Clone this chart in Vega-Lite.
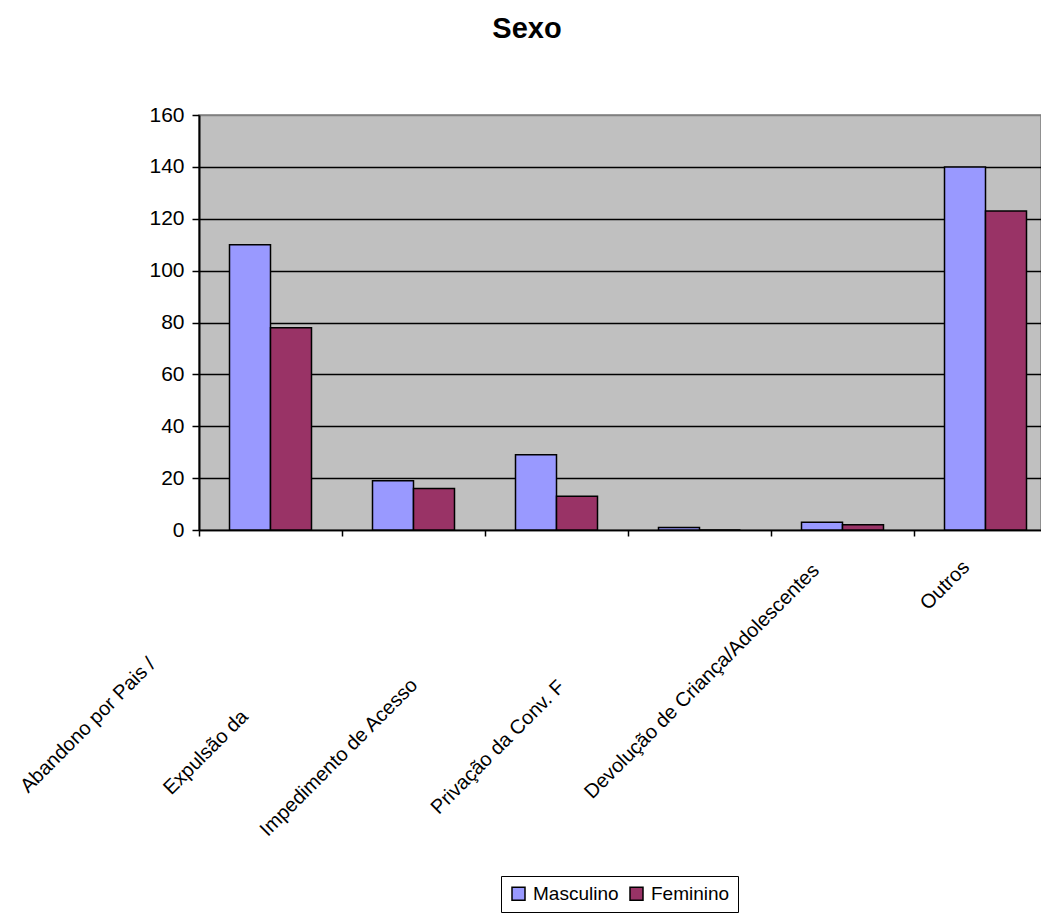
{
  "$schema": "https://vega.github.io/schema/vega-lite/v6.json",
  "autosize": {"type": "none"},
  "padding": {"left": 199, "top": 115, "right": 0, "bottom": 386},
  "width": 842,
  "height": 415,
  "background": "white",
  "title": {
    "text": "Sexo",
    "font": "Liberation Sans",
    "fontSize": 29,
    "fontWeight": "bold",
    "color": "black",
    "anchor": "middle",
    "frame": "group",
    "dx": -93,
    "offset": 60
  },
  "data": {
    "values": [
      {"categoria": "Abandono por Pais /", "sexo": "Masculino", "total": 110},
      {"categoria": "Abandono por Pais /", "sexo": "Feminino", "total": 78},
      {"categoria": "Expulsão da", "sexo": "Masculino", "total": 19},
      {"categoria": "Expulsão da", "sexo": "Feminino", "total": 16},
      {"categoria": "Impedimento de Acesso", "sexo": "Masculino", "total": 29},
      {"categoria": "Impedimento de Acesso", "sexo": "Feminino", "total": 13},
      {"categoria": "Privação da Conv. F", "sexo": "Masculino", "total": 1},
      {"categoria": "Privação da Conv. F", "sexo": "Feminino", "total": 0},
      {"categoria": "Devolução de Criança/Adolescentes", "sexo": "Masculino", "total": 3},
      {"categoria": "Devolução de Criança/Adolescentes", "sexo": "Feminino", "total": 2},
      {"categoria": "Outros", "sexo": "Masculino", "total": 140},
      {"categoria": "Outros", "sexo": "Feminino", "total": 123}
    ]
  },
  "config": {
    "view": {"fill": "#C0C0C0", "stroke": "#808080", "strokeWidth": 1.5},
    "font": "Liberation Sans"
  },
  "mark": {"type": "bar", "stroke": "black", "strokeWidth": 1.5, "clip": true},
  "encoding": {
    "x": {
      "field": "categoria",
      "type": "nominal",
      "sort": null,
      "scale": {"range": [0, 858], "paddingInner": 0, "paddingOuter": 0},
      "axis": {
        "title": null,
        "domainColor": "black",
        "domainWidth": 1.5,
        "tickColor": "black",
        "tickWidth": 1.5,
        "tickSize": 6,
        "tickBand": "extent",
        "labelAngle": -45,
        "labelAlign": "center",
        "labelBaseline": "middle",
        "labelOffset": {"expr": "datum.value === 'Abandono por Pais /' ? -183 : datum.value === 'Expulsão da' ? -208 : datum.value === 'Impedimento de Acesso' ? -218 : datum.value === 'Privação da Conv. F' ? -202 : datum.value === 'Devolução de Criança/Adolescentes' ? -141 : -41"},
        "labelPadding": {"expr": "datum.value === 'Abandono por Pais /' ? 189 : datum.value === 'Expulsão da' ? 216 : datum.value === 'Impedimento de Acesso' ? 221 : datum.value === 'Privação da Conv. F' ? 211 : datum.value === 'Devolução de Criança/Adolescentes' ? 145 : 49"},
        "labelFont": "Liberation Sans",
        "labelFontSize": 20,
        "labelColor": "black",
        "labelLimit": 0,
        "labelOverlap": false
      }
    },
    "xOffset": {
      "field": "sexo",
      "type": "nominal",
      "sort": ["Masculino", "Feminino"],
      "scale": {"paddingInner": 0, "paddingOuter": 0.744}
    },
    "y": {
      "field": "total",
      "type": "quantitative",
      "scale": {"domain": [0, 160], "nice": false},
      "axis": {
        "title": null,
        "values": [0, 20, 40, 60, 80, 100, 120, 140, 160],
        "domainColor": "black",
        "domainWidth": 2,
        "tickColor": "black",
        "tickWidth": 1.5,
        "tickSize": 7,
        "labelPadding": 8,
        "labelFont": "Liberation Sans",
        "labelFontSize": 21,
        "labelColor": "black",
        "grid": true,
        "gridColor": {"condition": {"test": "datum.value === 160", "value": "#808080"}, "value": "black"},
        "gridWidth": 1.5,
        "gridOpacity": 1
      }
    },
    "color": {
      "field": "sexo",
      "type": "nominal",
      "sort": ["Masculino", "Feminino"],
      "scale": {"domain": ["Masculino", "Feminino"], "range": ["#9999FF", "#993366"]},
      "legend": {
        "title": null,
        "orient": "none",
        "legendX": 302,
        "legendY": 761,
        "direction": "horizontal",
        "symbolType": "square",
        "symbolSize": 169,
        "symbolStrokeColor": "black",
        "symbolStrokeWidth": 1.5,
        "symbolOpacity": 1,
        "labelFont": "Liberation Sans",
        "labelFontSize": 19,
        "labelColor": "black",
        "labelOffset": 5,
        "columnPadding": 8,
        "padding": 8,
        "strokeColor": "black",
        "fillColor": "white"
      }
    }
  }
}
